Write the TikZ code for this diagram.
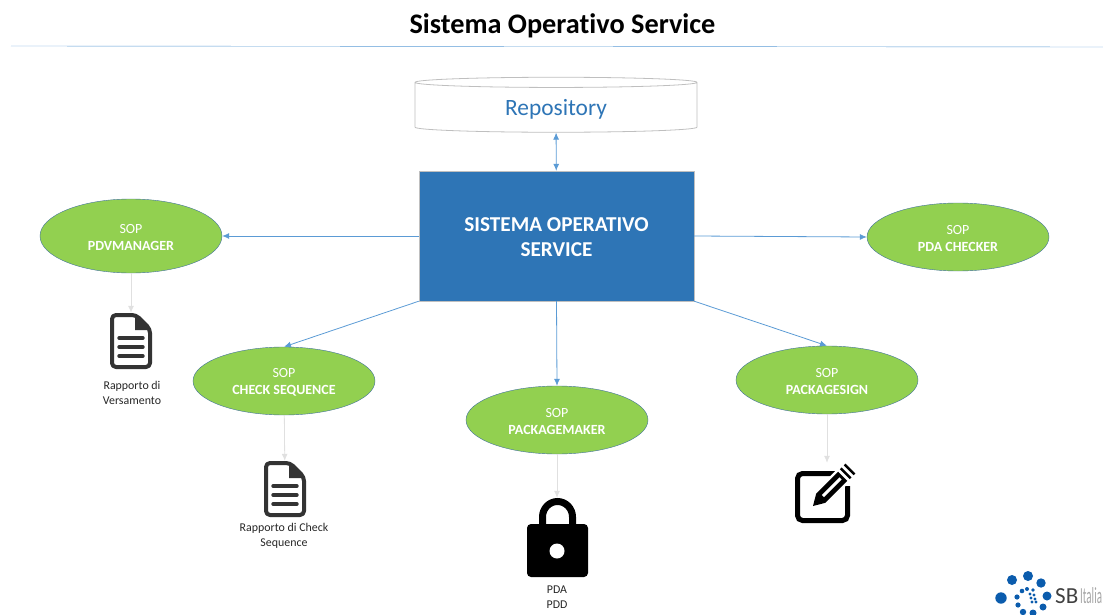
\documentclass[tikz,border=0pt]{standalone}
\usepackage{fontspec}
\setmainfont[Ligatures=NoCommon]{Carlito}
\usetikzlibrary{arrows.meta,shapes.geometric}
\definecolor{linkblue}{HTML}{5B9BD5}
\definecolor{coreblue}{HTML}{2E75B6}
\definecolor{sopgreen}{HTML}{92D050}
\definecolor{sopedge}{HTML}{41719C}
\definecolor{logoblue}{HTML}{0B5CAD}
\newcommand\soplabel[1]{\rule{0pt}{12.5pt}SOP\\\textbf{#1}}
\tikzset{
  sop/.style={ellipse, draw=sopedge, fill=sopgreen, text=white, inner sep=0pt,
              minimum width=182pt, minimum height=68pt, align=center,
              font=\fontsize{14}{17}\selectfont},
  caption/.style={align=center, text=black!85, font=\fontsize{11.9}{15}\selectfont},
  iconbox/.style={inner sep=0pt, minimum width=#1, minimum height=#1},
  link/.style={linkblue, thick, -{Latex[length=7pt,width=6pt]}},
  outlink/.style={black!12, thick, -{Latex[length=7pt,width=6pt]}},
  pics/docicon/.style={code={
    \draw[line width=4pt, black!80, rounded corners=4pt, line join=round]
      (-19,-26) -- (5,-26) -- (19,-12) -- (19,26) -- (-19,26) -- cycle;
    \fill[black!80] (4,-27) -- (20,-11) -- (4,-11) -- cycle;
    \foreach \rowy in {-3,6,15}
      \draw[line width=3.4pt, black!80, line cap=round] (-12,\rowy) -- (12,\rowy);
  }}
}
\begin{document}
\begin{tikzpicture}[x=1pt, y=-1pt]
  \useasboundingbox (0,0) rectangle (1103,615);
  % title
  \node (title) at (562.5,26) {\fontsize{28.3}{32}\selectfont\bfseries Sistema Operativo Service};
  \coordinate (ruleleft) at (11,46);
  \coordinate (ruleright) at (1103,47);
  \draw[linkblue] (ruleleft) -- (ruleright);
  % centre
  \node (repo) [cylinder, shape border rotate=90, aspect=0.1, draw=black!25, line width=.8pt,
                text=coreblue, minimum width=282pt, minimum height=55pt, inner sep=0pt,
                font=\fontsize{23.4}{26}\selectfont] at (556,107.5) {\raisebox{-8pt}[0pt][0pt]{Repository}};
  \node (core) [rectangle, fill=coreblue, draw=black!25, text=white, minimum width=275pt,
                minimum height=130pt, inner sep=0pt, align=center,
                font=\fontsize{21.2}{25}\selectfont\bfseries] at (556.5,236)
                {\rule{0pt}{17pt}SISTEMA OPERATIVO\\SERVICE};
  % sop nodes
  \node (pdv) [sop, minimum height=74pt] at (131,236) {\soplabel{PDVMANAGER}};
  \node (pdachk) [sop] at (958,237) {\soplabel{PDA CHECKER}};
  \node (chkseq) [sop] at (284,381) {\soplabel{CHECK SEQUENCE}};
  \node (pkgmk) [sop] at (557,420) {\soplabel{PACKAGEMAKER}};
  \node (pkgsign) [sop] at (827,380) {\soplabel{PACKAGESIGN}};
  % icons
  \node (docone) [iconbox=56pt] at (131,341) {};
  \node (doctwo) [iconbox=56pt] at (285,489) {};
  \node (lock) [iconbox=80pt] at (557,538) {};
  \node (edit) [iconbox=68pt] at (827,497) {};
  \pic at (docone) {docicon};
  \pic at (doctwo) {docicon};
  \fill[black, rounded corners=4pt] (527,524) rectangle (588,577);
  \fill[white] (557,551) circle (7.5);
  \draw[black, line width=7pt] (542.5,526) -- (542.5,517) arc (180:360:15 and 15.5) -- (572.5,526);
  \draw[black, line width=5pt, rounded corners=5pt] (835,473.5) -- (797.5,473.5) -- (797.5,520.5)
        -- (847.5,520.5) -- (847.5,486);
  \begin{scope}[shift={(813,506)}, rotate=45]
    \fill[white] (4,-9) rectangle (42,9);
    \fill[black] (0,0) -- (11,-6.5) -- (42,-6.5) -- (42,6.5) -- (11,6.5) -- cycle;
    \fill[white] (14,-1.5) rectangle (39,1.5);
    \fill[black] (45,-7) rectangle (47.5,7);
    \fill[black] (50.5,-7) rectangle (53,7);
  \end{scope}
  % captions
  \node (capone) [caption] at (132,393) {Rapporto di\\Versamento};
  \node (captwo) [caption] at (284,536) {Rapporto di Check\\Sequence};
  \node (caplock) [caption] at (557,597.5) {PDA\\PDD};
  % connectors
  \draw[linkblue, thick, {Latex[length=7pt,width=6pt]}-{Latex[length=7pt,width=6pt]}] (repo) -- (core);
  \draw[link] (core.west) -- (pdv.east);
  \draw[link] (core.east) -- (pdachk.west);
  \draw[link] (core.south west) -- (chkseq.north);
  \draw[link] (core.south) -- (pkgmk.north);
  \draw[link] (core.south east) -- (pkgsign.north);
  \draw[outlink] (pdv) -- (docone);
  \draw[outlink] (chkseq) -- (doctwo);
  \draw[outlink] (pkgmk) -- (lock);
  \draw[outlink] (pkgsign) -- (edit);
  % logo
  \foreach \dotx/\doty/\dotr in {1001/598/5.7, 1012/580/5, 1028/576/5, 1041/583/4.7, 1047/596/4.5,
      1043/607/3.5, 1033/613/3.5, 1023/612/3.2, 1018/605/2.6, 1017/597/2.6, 1022/591/2.3, 1027/589/2,
      1033/590/1.9, 1030/594/1.7, 1034/595/1.7, 1031/598/1.7, 1035/599/1.7, 1032/602/1.7, 1036/602/1.7}
    \fill[logoblue] (\dotx,\doty) circle (\dotr);
  \node (logosb) [anchor=west, inner sep=0pt, black!75, font=\fontsize{23}{26}\selectfont] at (1055,596) {SB};
  \node (logoname) [anchor=west, inner sep=0pt, black!35, xscale=.48, font=\fontsize{23}{26}\selectfont] at (1080,596) {Italia};
\end{tikzpicture}
\end{document}
